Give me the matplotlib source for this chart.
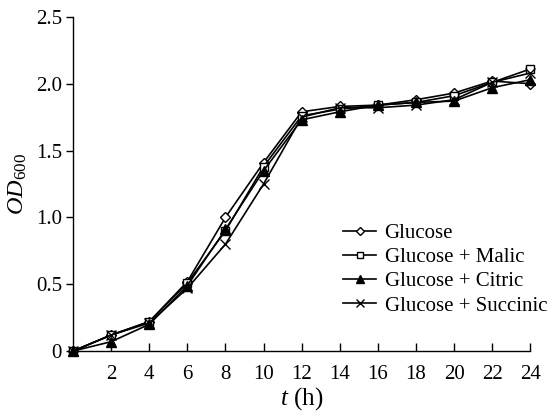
import matplotlib
matplotlib.use("Agg")
import matplotlib.pyplot as plt

t = [0, 2, 4, 6, 8, 10, 12, 14, 16, 18, 20, 22, 24]
glucose = [0, 0.12, 0.22, 0.52, 1.00, 1.41, 1.79, 1.83, 1.84, 1.88, 1.93, 2.02, 2.00]
malic = [0, 0.12, 0.22, 0.51, 0.90, 1.38, 1.76, 1.81, 1.84, 1.86, 1.91, 2.01, 2.11]
citric = [0, 0.07, 0.20, 0.49, 0.91, 1.35, 1.73, 1.79, 1.84, 1.86, 1.87, 1.97, 2.03]
succinic = [0, 0.12, 0.21, 0.47, 0.80, 1.25, 1.75, 1.82, 1.82, 1.84, 1.88, 2.01, 2.08]
labels = ["Glucose", "Glucose + Malic", "Glucose + Citric", "Glucose + Succinic"]
xticks = [2, 4, 6, 8, 10, 12, 14, 16, 18, 20, 22, 24]
yticks = [0, 0.5, 1.0, 1.5, 2.0, 2.5]
ytick_labels = ["0", "0.5", "1.0", "1.5", "2.0", "2.5"]

plt.rcParams['font.family'] = ['Liberation Serif', 'DejaVu Serif']
plt.rcParams['font.size'] = 15
plt.rcParams['mathtext.fontset'] = 'custom'
plt.rcParams['mathtext.rm'] = 'Liberation Serif'
plt.rcParams['mathtext.it'] = 'Liberation Serif:italic'

fig = plt.figure(figsize=(5.5, 4.12), dpi=100)
ax = fig.add_axes([0.133, 0.148, 0.831, 0.811])

styles = [
    dict(marker='D', markersize=5.5, markerfacecolor='white'),
    dict(marker='s', markersize=6, markerfacecolor='white'),
    dict(marker='^', markersize=7, markerfacecolor='black'),
    dict(marker='x', markersize=7, markerfacecolor='black'),
]
for y, lab, st in zip([glucose, malic, citric, succinic], labels, styles):
    ax.plot(t, y, color='black', lw=1.2, markeredgecolor='black',
            markeredgewidth=1.0, label=lab, clip_on=False, **st)

ax.set_xlim(0, 24)
ax.set_ylim(0, 2.5)
ax.set_xticks(xticks)
ax.set_yticks(yticks)
ax.set_yticklabels(ytick_labels)
ax.spines['top'].set_visible(False)
ax.spines['right'].set_visible(False)
for s in ['left', 'bottom']:
    ax.spines[s].set_linewidth(1.0)
ax.tick_params(axis='x', direction='in', length=6, width=1.0, pad=10)
ax.tick_params(axis='y', direction='out', length=5, width=1.0, pad=3)

ax.set_xlabel(r'$t$ (h)', fontsize=18, labelpad=1)
ax.set_ylabel(r'$OD_{\mathrm{600}}$', fontsize=17.5, labelpad=5)

leg = ax.legend(loc='lower right', bbox_to_anchor=(1.055, 0.081), frameon=False,
                handlelength=1.6, handletextpad=0.4, labelspacing=0.22,
                borderaxespad=0.0, markerscale=0.8)

fig.savefig('out.png', dpi=100)
